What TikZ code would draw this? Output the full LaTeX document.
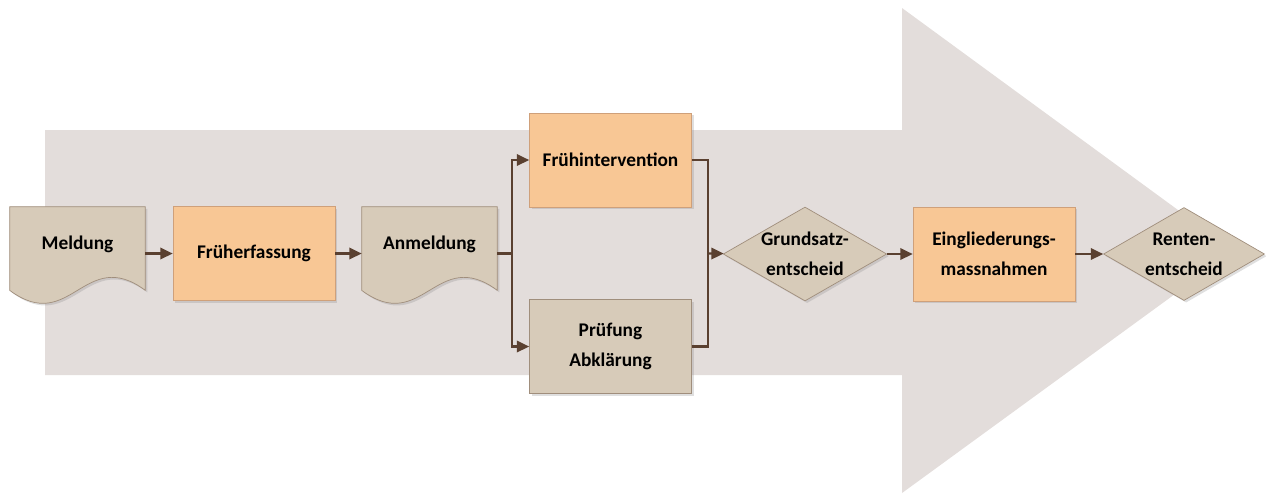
\documentclass[tikz,border=0pt]{standalone}
\usepackage{fontspec}
\setmainfont{Carlito}
\usetikzlibrary{positioning, arrows.meta, shapes.geometric, shadows, backgrounds, calc}

\definecolor{bgarrow}{HTML}{E3DDDB}
\definecolor{tanfill}{HTML}{D7CBB9}
\definecolor{tanline}{HTML}{A08E7C}
\definecolor{orfill}{HTML}{F8C795}
\definecolor{orline}{HTML}{CFA07A}
\definecolor{flowcol}{HTML}{5A4030}

\begin{document}
\begin{tikzpicture}[
    x=0.02cm, y=-0.02cm,
    >=Triangle,
    shade/.style={drop shadow={shadow xshift=1.2pt, shadow yshift=-1.2pt, opacity=0.25}},
    box/.style={rectangle, draw=orline, fill=orfill, shade,
                minimum width=3.24cm, minimum height=1.88cm,
                align=center, font=\fontsize{11}{17}\selectfont\bfseries},
    tanbox/.style={box, draw=tanline, fill=tanfill},
    docbox/.style={rectangle, minimum width=2.7cm, minimum height=1.86cm,
                   text height=7pt, text depth=12pt,
                   font=\fontsize{11}{17}\selectfont\bfseries},
    docline/.style={draw=tanline, fill=tanfill, shade},
    decision/.style={diamond, draw=tanline, fill=tanfill, shade, aspect=1.74,
                     minimum width=3.22cm, minimum height=1.86cm, inner sep=0pt,
                     align=center, font=\fontsize{11}{17}\selectfont\bfseries},
    line/.style={draw=flowcol, line width=1.2pt},
    flow/.style={line, -{Triangle[length=7pt, width=6.5pt]}}
]
  \useasboundingbox (0,0) rectangle (1266,495);

  % --- Nodes ---
  \node[docbox] (meld) at (77.5,253.5) {Meldung};
  \node[box] (frueh) at (254,253.5) {Früherfassung};
  \node[docbox] (anm) at (429.5,253.5) {Anmeldung};
  \node[box] (fi) at (610.5,160) {Frühintervention};
  \node[tanbox] (pa) at (610.5,346.5) {Prüfung\\Abklärung};
  \node[decision] (gs) at (805,254) {Grundsatz-\\entscheid};
  \node[box] (ein) at (994,254) {Eingliederungs-\\massnahmen};
  \node[decision] (rent) at (1184,254) {Renten-\\entscheid};

  \coordinate (split) at (512,253.5);
  \coordinate (join) at (708,253.5);

  % --- Background arrow and document shapes ---
  \begin{scope}[on background layer]
    \fill[bgarrow] (45,130) -- (902,130) -- (902,8) -- (1234,251)
      -- (902,493) -- (902,375) -- (45,375) -- cycle;
    \foreach \d in {meld, anm} {
      \path[docline] ($(\d.south west)+(0,-10)$)
        .. controls +(61,45) and +(-61,-45) .. ($(\d.south east)+(0,-10)$)
        -- (\d.north east) -- (\d.north west) -- cycle;
    }
  \end{scope}

  % --- Connectors ---
  \draw[flow] (meld) -- (frueh);
  \draw[flow] (frueh) -- (anm);
  \draw[line] (anm) -- (split);
  \draw[flow] (split) |- (fi);
  \draw[flow] (split) |- (pa);
  \draw[line] (fi) -| (join);
  \draw[line] (pa) -| (join);
  \draw[flow] (join) -- (gs);
  \draw[flow] (gs) -- (ein);
  \draw[flow] (ein) -- (rent);

\end{tikzpicture}
\end{document}
